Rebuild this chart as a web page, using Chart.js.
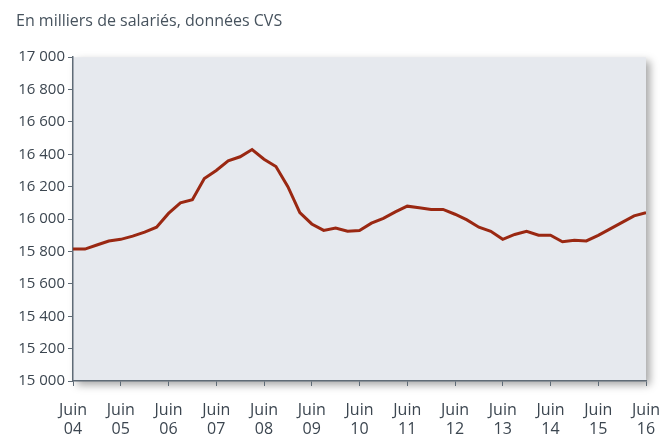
<!DOCTYPE html>
<html>
<head>
<meta charset="utf-8">
<script src="https://cdn.jsdelivr.net/npm/chart.js@4/dist/chart.umd.min.js"></script>
<style>
  html, body { margin: 0; padding: 0; background: #fff; }
  #wrap { width: 664px; height: 434px; }
</style>
</head>
<body>
<div id="wrap"><canvas id="chart"></canvas></div>
<script>
// Trimestres, de juin 2004 à juin 2016
const quarters = [
    '2004T2', '2004T3', '2004T4',
    '2005T1', '2005T2', '2005T3', '2005T4',
    '2006T1', '2006T2', '2006T3', '2006T4',
    '2007T1', '2007T2', '2007T3', '2007T4',
    '2008T1', '2008T2', '2008T3', '2008T4',
    '2009T1', '2009T2', '2009T3', '2009T4',
    '2010T1', '2010T2', '2010T3', '2010T4',
    '2011T1', '2011T2', '2011T3', '2011T4',
    '2012T1', '2012T2', '2012T3', '2012T4',
    '2013T1', '2013T2', '2013T3', '2013T4',
    '2014T1', '2014T2', '2014T3', '2014T4',
    '2015T1', '2015T2', '2015T3', '2015T4',
    '2016T1', '2016T2'
];

// Emploi salarié, en milliers, CVS
const salaries = [
    15815, 15815, 15840,
    15865, 15875, 15895, 15920,
    15950, 16035, 16100, 16120,
    16250, 16300, 16360, 16385,
    16430, 16370, 16325, 16200,
    16040, 15970, 15930, 15945,
    15925, 15930, 15975, 16005,
    16045, 16080, 16070, 16060,
    16060, 16030, 15995, 15950,
    15925, 15875, 15905, 15925,
    15900, 15900, 15860, 15870,
    15865, 15900, 15940, 15980,
    16020, 16040
];

const yTicks = [15000, 15200, 15400, 15600, 15800, 16000, 16200, 16400, 16600, 16800, 17000];

const textColor = '#3c4650';
const axisColor = '#5f6b76';

function formatThousands(v) {
    return String(v).replace(/\B(?=(\d{3})+(?!\d))/g, ' ');
}

// fond gris de la zone de tracé, avec une ombre portée
const plotBackground = {
    id: 'plotBackground',
    beforeDraw(chart) {
        const {ctx, chartArea: a} = chart;
        ctx.save();
        ctx.shadowColor = 'rgba(0, 0, 0, 0.35)';
        ctx.shadowBlur = 8;
        ctx.shadowOffsetX = 4;
        ctx.shadowOffsetY = 4;
        ctx.fillStyle = '#e6e9ee';
        ctx.fillRect(a.left, a.top, a.right - a.left, a.bottom - a.top);
        ctx.restore();
    }
};

new Chart(document.getElementById('chart'), {
    type: 'line',
    data: {
        datasets: [{
            data: salaries.map((v, i) => ({x: i, y: v})),
            borderColor: '#9a2812',
            borderWidth: 3,
            pointRadius: 0,
            tension: 0,
            fill: false
        }]
    },
    options: {
        responsive: true,
        maintainAspectRatio: false,
        animation: false,
        layout: {
            padding: {left: 16, right: 18, top: 0, bottom: 0}
        },
        plugins: {
            legend: {display: false},
            tooltip: {enabled: false},
            title: {
                display: true,
                text: 'En milliers de salariés, données CVS',
                align: 'start',
                color: '#47535e',
                font: {family: 'Open Sans', size: 16, weight: 'normal'},
                padding: {top: 12, bottom: 26}
            }
        },
        scales: {
            x: {
                type: 'linear',
                min: 0,
                max: quarters.length - 1,
                afterFit: scale => {
                    scale.height = 53;
                    scale.paddingLeft = 0;
                    scale.paddingRight = 0;
                },
                border: {color: axisColor, width: 1.5},
                grid: {
                    drawOnChartArea: false,
                    tickLength: 5,
                    color: axisColor
                },
                ticks: {
                    stepSize: 4,
                    autoSkip: false,
                    maxRotation: 0,
                    padding: 15,
                    color: textColor,
                    font: {family: 'Open Sans', size: 16, lineHeight: 1.2},
                    callback: v => ['Juin', quarters[v].slice(2, 4)]
                }
            },
            y: {
                min: 15000,
                max: 17000,
                afterFit: scale => { scale.width = 57; },
                afterBuildTicks: scale => { scale.ticks = yTicks.map(v => ({value: v})); },
                border: {color: axisColor, width: 1.5},
                grid: {
                    drawOnChartArea: false,
                    tickLength: 5,
                    color: axisColor
                },
                ticks: {
                    padding: 3,
                    color: textColor,
                    font: {family: 'Open Sans', size: 15},
                    callback: v => formatThousands(v)
                }
            }
        }
    },
    plugins: [plotBackground]
});
</script>
</body>
</html>
